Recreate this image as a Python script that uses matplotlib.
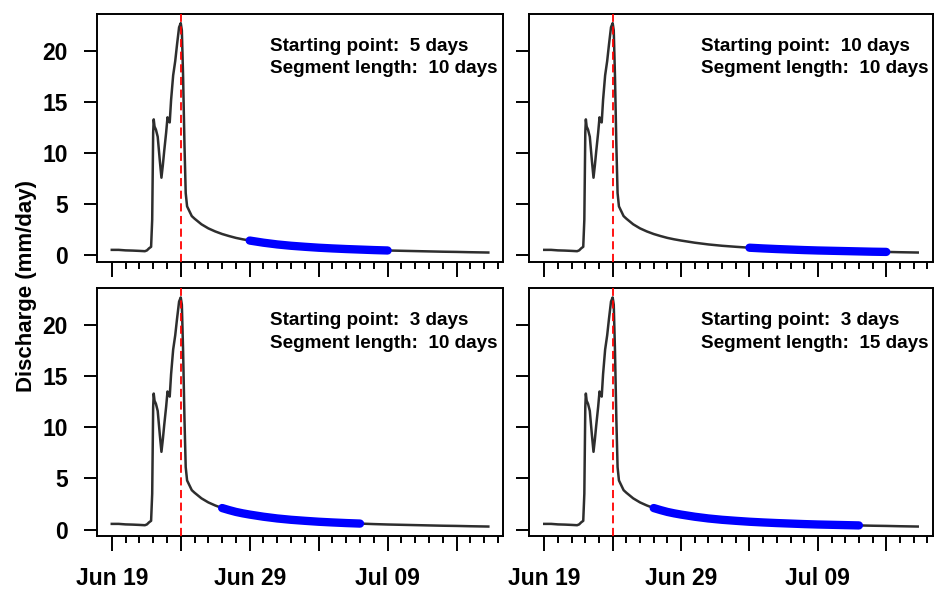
import matplotlib
import matplotlib.pyplot as plt
import matplotlib.ticker as ticker
import matplotlib.dates as mdates
import numpy as np

matplotlib.use("Agg")
plt.rcParams["font.family"] = ["Liberation Sans", "DejaVu Sans"]
plt.rcParams["font.weight"] = "bold"

# hydrograph, days since Jun 19 00:00 and discharge in mm/day
days = [0.0, 0.5, 1.0, 1.5, 2.0, 2.4, 2.55, 2.7, 2.85, 2.93, 3.0, 3.04, 3.1, 3.2,
        3.33, 3.48, 3.6, 3.7, 3.8, 3.94, 4.04, 4.1, 4.2, 4.3, 4.45, 4.6, 4.73,
        4.88, 5.0, 5.08, 5.17, 5.27, 5.36, 5.46, 5.8, 6.0, 6.5, 7.0, 7.5, 8.0,
        8.5, 9.0, 9.5, 10.0, 11.0, 12.0, 13.0, 14.0, 15.0, 16.0, 17.0, 18.0,
        19.0, 20.0, 21.0, 22.0, 23.0, 24.0, 25.0, 26.0, 27.3]
discharge = [0.55, 0.55, 0.5, 0.48, 0.45, 0.42, 0.5, 0.7, 0.85, 3.5, 12.0, 13.3,
             12.6, 12.3, 11.6, 9.3, 7.6, 8.8, 10.2, 12.0, 13.5, 13.2, 13.0, 15.2,
             17.6, 19.0, 20.6, 22.3, 22.7, 22.0, 17.5, 10.8, 6.1, 4.8, 3.85, 3.6,
             3.05, 2.65, 2.35, 2.1, 1.9, 1.72, 1.58, 1.46, 1.25, 1.08, 0.95, 0.85,
             0.76, 0.69, 0.63, 0.58, 0.53, 0.49, 0.46, 0.43, 0.40, 0.37, 0.35,
             0.32, 0.29]
start_date = np.datetime64("2014-06-19T00:00")
peak_date = np.datetime64("2014-06-24T00:00")

# panels: starting point (days after peak) and segment length
start_points = [5, 10, 3, 3]
seg_lengths = [10, 10, 10, 15]

major_dates = ["2014-06-19", "2014-06-24", "2014-06-29", "2014-07-04",
               "2014-07-09", "2014-07-14"]
major_labels = ["Jun 19", "", "Jun 29", "", "Jul 09", ""]
y_ticks = [0, 5, 10, 15, 20]

d = np.array(days)
q = np.array(discharge)
t = start_date + (d * 1440).round().astype("timedelta64[m]")
peak_day = (peak_date - start_date) / np.timedelta64(1, "D")

fig = plt.figure(figsize=(9.40, 6.03), dpi=100)
boxes = [
    [0.1029, 0.5660, 0.4326, 0.4108],
    [0.5631, 0.5660, 0.4291, 0.4108],
    [0.1029, 0.1116, 0.4326, 0.4103],
    [0.5631, 0.1116, 0.4291, 0.4103],
]

major_num = mdates.date2num(np.array(major_dates, dtype="datetime64[D]"))
minor_num = np.arange(major_num[0], major_num[-1] + 4)

for i, box in enumerate(boxes):
    ax = fig.add_axes(box)
    ax.plot(t, q, color="#2e2e2e", lw=1.8, zorder=2)
    s = peak_day + start_points[i]
    e = s + seg_lengths[i]
    m = (d >= s) & (d <= e)
    ax.plot(t[m], q[m], color="#0000ff", lw=6, solid_capstyle="round", zorder=3)
    ax.axvline(peak_date, color="#ff0000", lw=1.3, dashes=(4.5, 2.5), zorder=4)
    ax.margins(x=0.04, y=0.04)

    ax.xaxis.set_major_locator(ticker.FixedLocator(major_num))
    ax.xaxis.set_minor_locator(ticker.FixedLocator(minor_num))
    ax.set_yticks(y_ticks)
    ax.tick_params(axis="x", which="major", length=10.8, width=1.4, pad=12,
                   labelsize=16.5)
    ax.tick_params(axis="x", which="minor", length=5, width=1.4)
    ax.tick_params(axis="y", length=9.6, width=1.4, pad=11, labelsize=16.5)
    for sp in ax.spines.values():
        sp.set_linewidth(1.4)

    if i >= 2:
        ax.set_xticklabels(major_labels)
    else:
        ax.set_xticklabels([])
    if i % 2 == 1:
        ax.set_yticklabels([])

    ax.text(0.426, 0.852, f"Starting point:  {start_points[i]} days",
            transform=ax.transAxes, fontsize=13.6, va="baseline")
    ax.text(0.426, 0.7606, f"Segment length:  {seg_lengths[i]} days",
            transform=ax.transAxes, fontsize=13.6, va="baseline")

fig.text(0.0277, 0.526, "Discharge (mm/day)", rotation=90, fontsize=16,
         ha="center", va="center")

fig.savefig("out.png", dpi=100)
